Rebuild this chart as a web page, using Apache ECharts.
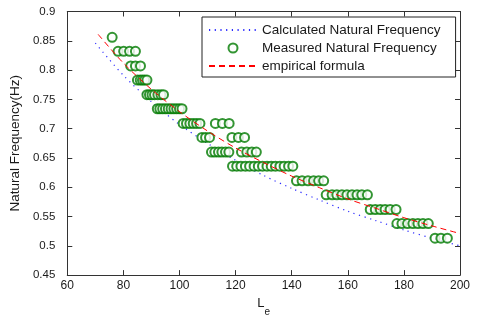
<!DOCTYPE html>
<html>
<head>
<meta charset="utf-8">
<script src="https://cdn.jsdelivr.net/npm/echarts/dist/echarts.min.js"></script>
<style>
  html, body { margin: 0; padding: 0; background: #fff; }
  #chart { width: 481px; height: 322px; }
</style>
</head>
<body>
<div id="chart"></div>
<script>
// Calculated natural frequency vs. effective length
const calcL = [70, 80, 90, 100, 110, 120, 130, 140, 150, 160, 170, 180, 190, 200];
const calcF = [0.846, 0.791, 0.746, 0.707, 0.675, 0.646, 0.620, 0.598, 0.578, 0.559, 0.543, 0.527, 0.513, 0.500];

// Empirical formula curve
const empL = [71, 80, 90, 100, 110, 120, 130, 140, 150, 160, 170, 180, 190, 200];
const empF = [0.861, 0.812, 0.767, 0.729, 0.696, 0.667, 0.642, 0.619, 0.599, 0.580, 0.564, 0.548, 0.534, 0.521];

// Measured frequencies: each frequency level and the lengths measured at it
const measuredF = [0.856, 0.832, 0.807, 0.783, 0.758, 0.734, 0.709, 0.685, 0.660, 0.636, 0.611, 0.587, 0.562, 0.538, 0.513];
const measuredL = [
  [76.0],
  [78.1, 80.1, 82.2, 84.3],
  [82.6, 84.3, 86.1],
  [85.0, 86.0, 86.8, 87.6, 88.4],
  [88.4, 89.3, 90.2, 91.1, 92.3, 93.4, 94.3],
  [92.1, 93.0, 94.0, 95.0, 96.0, 97.0, 98.0, 99.0, 100.0, 100.9],
  [101.3, 102.5, 103.7, 104.9, 106.1, 107.3, 112.8, 115.3, 117.7],
  [108.0, 109.3, 110.7, 118.7, 121.0, 123.2],
  [111.4, 112.6, 113.9, 115.1, 116.4, 117.6, 122.1, 124.0, 125.8, 127.4],
  [118.9, 120.4, 121.9, 123.5, 125.0, 126.6, 128.1, 129.6, 131.2, 132.7, 134.2, 135.8, 137.3, 138.9, 140.4],
  [141.7, 143.7, 145.8, 147.8, 149.6, 151.4],
  [152.3, 154.4, 156.1, 157.9, 159.7, 161.5, 163.3, 165.0, 167.0],
  [168.0, 169.8, 171.6, 173.3, 175.1, 177.2],
  [177.5, 179.3, 181.3, 183.2, 185.0, 186.8, 188.7],
  [191.1, 193.2, 195.5]
];

// Axis ticks
const xTicks = [60, 80, 100, 120, 140, 160, 180, 200];
const yTicks = [0.45, 0.5, 0.55, 0.6, 0.65, 0.7, 0.75, 0.8, 0.85, 0.9];

const seriesNames = ['Calculated Natural Frequency', 'Measured Natural Frequency', 'empirical formula'];

const FONT = '"Liberation Sans", Arial, Helvetica, sans-serif';
const AXIS_COLOR = '#333';
const TEXT_COLOR = '#1a1a1a';
const GREEN = '#007a00';

const calcData = calcL.map((l, i) => [l, calcF[i]]);
const empData = empL.map((l, i) => [l, empF[i]]);
const measData = [];
measuredL.forEach((row, i) => row.forEach(l => measData.push([l, measuredF[i]])));

const xStep = xTicks[1] - xTicks[0];
const yStep = +(yTicks[1] - yTicks[0]).toFixed(2);

function boxAxis(extra) {
  return Object.assign({
    type: 'value',
    axisLine: { show: true, onZero: false, lineStyle: { color: AXIS_COLOR, width: 1 } },
    axisTick: { show: true, inside: true, length: 5, lineStyle: { color: AXIS_COLOR, width: 1 } },
    splitLine: { show: false },
  }, extra);
}

const chart = echarts.init(document.getElementById('chart'), null, { renderer: 'canvas' });

chart.setOption({
  animation: false,
  backgroundColor: '#fff',
  textStyle: { fontFamily: FONT },
  grid: { left: 66.5, right: 21, top: 11.5, bottom: 40, containLabel: false },
  legend: {
    orient: 'vertical',
    left: 202,
    top: 17,
    itemWidth: 48,
    itemHeight: 9,
    itemGap: 4,
    padding: [6, 15, 4, 6],
    borderColor: '#222',
    borderWidth: 1,
    borderRadius: 0,
    backgroundColor: '#fff',
    selectedMode: false,
    textStyle: { fontFamily: FONT, fontSize: 13.5, color: TEXT_COLOR, lineHeight: 14 },
    data: [
      // line-only entries: hide the marker the line icon would otherwise carry
      { name: seriesNames[0], itemStyle: { opacity: 0 } },
      { name: seriesNames[1] },
      { name: seriesNames[2], itemStyle: { opacity: 0 } }
    ]
  },
  xAxis: [
    boxAxis({
      position: 'bottom',
      min: xTicks[0], max: xTicks[xTicks.length - 1], interval: xStep,
      axisLabel: { show: true, margin: 5, fontFamily: FONT, fontSize: 12, color: TEXT_COLOR },
      name: '{l|L}{s|e}',
      nameLocation: 'middle',
      nameGap: 20,
      nameTextStyle: {
        rich: {
          l: { fontFamily: FONT, fontSize: 13, color: TEXT_COLOR, lineHeight: 20, verticalAlign: 'top' },
          s: { fontFamily: FONT, fontSize: 10, color: TEXT_COLOR, lineHeight: 20, verticalAlign: 'bottom' }
        }
      }
    }),
    boxAxis({
      position: 'top',
      min: xTicks[0], max: xTicks[xTicks.length - 1], interval: xStep,
      axisLabel: { show: false }
    })
  ],
  yAxis: [
    boxAxis({
      position: 'left',
      min: yTicks[0], max: yTicks[yTicks.length - 1], interval: yStep,
      axisLabel: {
        show: true, margin: 12, fontFamily: FONT, fontSize: 11.5, color: TEXT_COLOR,
        formatter: v => String(+v.toFixed(2))
      },
      name: 'Natural Frequency(Hz)',
      nameLocation: 'middle',
      nameGap: 43,
      nameTextStyle: { fontFamily: FONT, fontSize: 13.5, color: TEXT_COLOR }
    }),
    boxAxis({
      position: 'right',
      min: yTicks[0], max: yTicks[yTicks.length - 1], interval: yStep,
      axisLabel: { show: false }
    })
  ],
  series: [
    {
      name: seriesNames[0],
      type: 'line',
      xAxisIndex: 0, yAxisIndex: 0,
      data: calcData,
      smooth: 0.3,
      symbol: 'none',
      silent: true,
      lineStyle: { color: '#2b2bff', width: 1.2, type: [1.2, 4.5] },
      itemStyle: { color: '#2b2bff' },
      z: 2
    },
    {
      name: seriesNames[1],
      type: 'scatter',
      xAxisIndex: 0, yAxisIndex: 0,
      data: measData,
      symbol: 'emptyCircle',
      symbolSize: 9,
      silent: true,
      itemStyle: { color: GREEN, borderColor: GREEN, borderWidth: 1 },
      z: 3
    },
    {
      name: seriesNames[2],
      type: 'line',
      xAxisIndex: 0, yAxisIndex: 0,
      data: empData,
      smooth: 0.3,
      symbol: 'none',
      silent: true,
      lineStyle: { color: '#ff0000', width: 1, type: [6, 4] },
      itemStyle: { color: '#ff0000' },
      z: 4
    }
  ]
});
</script>
</body>
</html>
